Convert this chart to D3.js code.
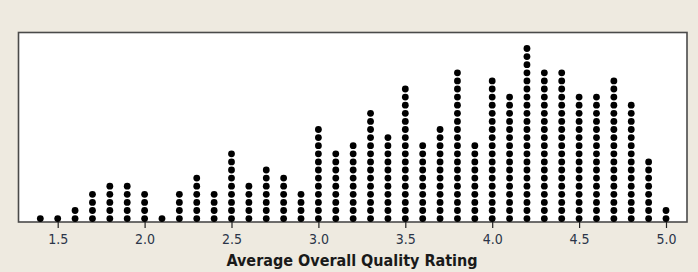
<!DOCTYPE html>
<html>
<head>
<meta charset="utf-8">
<script src="https://cdn.jsdelivr.net/npm/d3@7"></script>
<style>
    body { margin: 0; background: #eeeae0; }
    svg { display: block; }
    .tick-label { font-family: "DejaVu Sans Condensed", "DejaVu Sans", sans-serif; font-size: 14px; fill: #2b3548; }
    .axis-title { font-family: "DejaVu Sans Condensed", "DejaVu Sans", sans-serif; font-size: 16px; font-weight: bold; fill: #1a1a1a; }
</style>
</head>
<body>
<svg id="svg1" width="698" height="272"></svg>
<script>
//Chart global variables
const width = 698;
const height = 272;
const box = { left: 18.5, top: 32.5, right: 687, bottom: 222 };

// ratings (0.1 steps) and number of dots in each column
const ratings = [1.4, 1.5, 1.6, 1.7, 1.8, 1.9, 2.0, 2.1, 2.2, 2.3, 2.4, 2.5, 2.6, 2.7, 2.8, 2.9,
                 3.0, 3.1, 3.2, 3.3, 3.4, 3.5, 3.6, 3.7, 3.8, 3.9, 4.0, 4.1, 4.2, 4.3, 4.4, 4.5,
                 4.6, 4.7, 4.8, 4.9, 5.0];
const counts = [1, 1, 2, 4, 5, 5, 4, 1, 4, 6, 4, 9, 5, 7, 6, 4,
                12, 9, 10, 14, 11, 17, 10, 12, 19, 10, 18, 16, 22, 19, 19, 16,
                16, 18, 15, 8, 2];
const tickValues = [1.5, 2.0, 2.5, 3.0, 3.5, 4.0, 4.5, 5.0];

// one record per dot
const dots = [];
ratings.forEach((r, i) => {
    for (let k = 0; k < counts[i]; k++) dots.push({ rating: r, stack: k });
});

const xScale = d3.scaleLinear()
                .domain([1.5, 5.0])
                .range([57.7, 666]);

// stack position -> y (dot spacing about 8.1px)
const yScale = d3.scaleLinear()
                .domain([0, 22])
                .range([218.6, 218.6 - 22 * 8.1]);

const svg = d3.select("#svg1");

svg.append("rect")
    .attr("x", box.left)
    .attr("y", box.top)
    .attr("width", box.right - box.left)
    .attr("height", box.bottom - box.top)
    .attr("fill", "#ffffff")
    .attr("stroke", "#4a4a4a")
    .attr("stroke-width", 1.6);

svg.selectAll("circle")
    .data(dots)
    .join("circle")
    .attr("cx", d => xScale(d.rating))
    .attr("cy", d => yScale(d.stack))
    .attr("r", 3.4)
    .attr("fill", "#000000");

const bottomAxis = d3.axisBottom(xScale)
                    .tickValues(tickValues)
                    .tickSize(6)
                    .tickFormat(d3.format(".1f"));

const axisG = svg.append("g")
    .attr("transform", "translate(0," + box.bottom + ")")
    .call(bottomAxis);

axisG.select(".domain").remove();
axisG.selectAll(".tick line").attr("stroke", "#222").attr("stroke-width", 1.2);
axisG.selectAll(".tick text")
    .attr("class", "tick-label")
    .attr("dy", null)
    .attr("y", 22)
    .attr("font-family", null)
    .attr("font-size", null);
axisG.attr("font-family", null).attr("font-size", null);

svg.append("text")
    .attr("class", "axis-title")
    .attr("x", 352)
    .attr("y", 266)
    .attr("text-anchor", "middle")
    .text("Average Overall Quality Rating");
</script>
</body>
</html>
